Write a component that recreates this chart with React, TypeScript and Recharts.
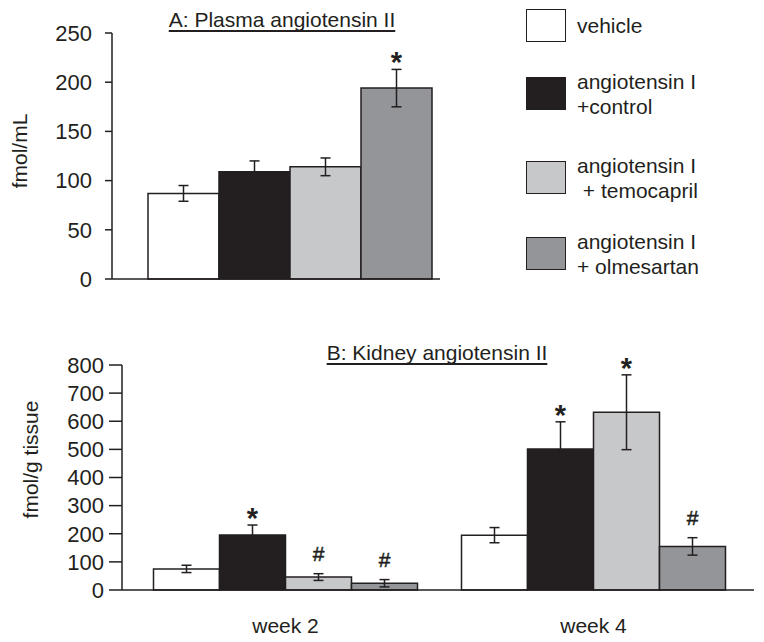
import { BarChart, Bar, XAxis, YAxis, ErrorBar, LabelList, Legend } from 'recharts'

const INK = '#231f20'
const FONT = '"Liberation Sans", Arial, Helvetica, sans-serif'

// series (same four groups in both panels)
const seriesKeys = ['vehicle', 'control', 'temocapril', 'olmesartan']
const seriesNames = ['vehicle', 'angiotensin I\n+control', 'angiotensin I\n + temocapril', 'angiotensin I\n+ olmesartan']
const seriesColors = ['#ffffff', '#231f20', '#c7c8ca', '#939598']

// A: plasma angiotensin II (fmol/mL)
const plasmaMean = [87, 109, 114, 194]
const plasmaErr = [8, 11, 9, 19]
const plasmaMark = ['', '', '', '*']
const plasmaTicks = [0, 50, 100, 150, 200, 250]

// B: kidney angiotensin II (fmol/g tissue)
const weeks = ['week 2', 'week 4']
const kidneyVehicle = [75, 195]
const kidneyControl = [196, 501]
const kidneyTemocapril = [46, 632]
const kidneyOlmesartan = [24, 155]
const kidneyVehicleErr = [13, 27]
const kidneyControlErr = [35, 97]
const kidneyTemocaprilErr = [12, 133]
const kidneyOlmesartanErr = [13, 31]
const kidneyVehicleMark = ['', '']
const kidneyControlMark = ['*', '*']
const kidneyTemocaprilMark = ['#', '*']
const kidneyOlmesartanMark = ['#', '#']
const kidneyTicks = [0, 100, 200, 300, 400, 500, 600, 700, 800]

const plasmaRow: Record<string, any> = { name: 'plasma' }
seriesKeys.forEach((k, i) => {
  plasmaRow[k] = plasmaMean[i]
  plasmaRow[k + 'Err'] = plasmaErr[i]
  plasmaRow[k + 'Mark'] = plasmaMark[i]
})
const plasmaData = [plasmaRow]

const kidneyMeans = [kidneyVehicle, kidneyControl, kidneyTemocapril, kidneyOlmesartan]
const kidneyErrs = [kidneyVehicleErr, kidneyControlErr, kidneyTemocaprilErr, kidneyOlmesartanErr]
const kidneyMarks = [kidneyVehicleMark, kidneyControlMark, kidneyTemocaprilMark, kidneyOlmesartanMark]
const kidneyData = weeks.map((w, j) => {
  const row: Record<string, any> = { name: w }
  seriesKeys.forEach((k, i) => {
    row[k] = kidneyMeans[i][j]
    row[k + 'Err'] = kidneyErrs[i][j]
    row[k + 'Mark'] = kidneyMarks[i][j]
  })
  return row
})

// significance marks sit above the top of the error bar
const makeMarker = (data: any[], key: string) => (props: any) => {
  const { x, y, width, height, value, index } = props
  if (!value) return null
  const row = data[index]
  const ppu = height / row[key]
  const errTop = y - row[key + 'Err'] * ppu
  const cx = x + width / 2
  if (value === '*') {
    return (
      <text x={cx} y={errTop + 3} textAnchor="middle" fontSize={29} fontWeight="bold" fill={INK} fontFamily={FONT}>
        *
      </text>
    )
  }
  return (
    <text x={cx} y={errTop - 13} textAnchor="middle" fontSize={21} fill={INK} stroke={INK} strokeWidth={0.5} fontFamily={FONT}>
      {value}
    </text>
  )
}

const axisTitle = (text: string, cx: number, shift: number) => (props: any) => {
  const vb = props.viewBox || { y: 0, height: 0 }
  const cy = vb.y + vb.height / 2 + shift
  return (
    <text
      x={cx} y={cy} transform={`rotate(-90 ${cx} ${cy})`}
      textAnchor="middle" dominantBaseline="central"
      fontSize={21} fill={INK} fontFamily={FONT}
    >
      {text}
    </text>
  )
}

const legendTops = [9, 77, 161, 237]

// legend drawn in series order (vehicle at the top)
const renderLegend = () => (
  <div style={{ position: 'relative', width: 230, height: 270, fontFamily: FONT, color: INK }}>
    {seriesNames.map((name, i) => (
      <div key={name} style={{ position: 'absolute', left: 0, top: legendTops[i], height: 33, display: 'flex', alignItems: 'center' }}>
        <div style={{ width: 38, height: 31, background: seriesColors[i], border: `1.5px solid ${INK}` }} />
        <div style={{ marginLeft: 11, fontSize: 21, lineHeight: '25px', whiteSpace: 'pre' }}>
          {name}
        </div>
      </div>
    ))}
  </div>
)

const tickStyle = { fill: INK, fontSize: 22, fontFamily: FONT }
const titleStyle: React.CSSProperties = {
  position: 'absolute', fontFamily: FONT, fontSize: 21, lineHeight: '21px',
  textDecoration: 'underline', textDecorationSkipInk: 'none', textUnderlineOffset: 3,
  color: INK, whiteSpace: 'nowrap', textAlign: 'center', width: 300,
}

export default function App() {
  return (
    <div style={{ position: 'absolute', left: 0, top: 0, width: 764, height: 642, background: '#fff', overflow: 'hidden' }}>
      <div style={{ ...titleStyle, left: 282 - 150, top: 9 }}>A: Plasma angiotensin II</div>
      <div style={{ ...titleStyle, left: 437 - 150, top: 342 }}>B: Kidney angiotensin II</div>

      <div style={{ position: 'absolute', left: 0, top: 0 }}>
        <BarChart
          width={764} height={300} data={plasmaData}
          margin={{ top: 33, right: 324, bottom: 0, left: 0 }}
          barCategoryGap={0} barGap={0}
        >
          <XAxis
            dataKey="name" tick={false} tickLine={false} height={21}
            axisLine={{ stroke: INK, strokeWidth: 1.5 }} padding={{ left: 36, right: 9 }}
          />
          <YAxis
            width={112} domain={[0, 250]} ticks={plasmaTicks} interval={0}
            tickSize={7} tickMargin={13} tick={tickStyle}
            axisLine={{ stroke: INK, strokeWidth: 1.5 }} tickLine={{ stroke: INK, strokeWidth: 1.5 }}
            label={{ content: axisTitle('fmol/mL', 19, -5) }}
          />
          <Legend
            content={renderLegend} layout="vertical" align="center" verticalAlign="middle"
            wrapperStyle={{ left: 526, top: 0, width: 230, height: 270 }}
          />
          {seriesKeys.map((k, i) => (
            <Bar key={k} dataKey={k} name={seriesNames[i]} fill={seriesColors[i]} stroke={INK} strokeWidth={1.5} isAnimationActive={false}>
              <ErrorBar dataKey={k + 'Err'} width={5} stroke={INK} strokeWidth={1.5} direction="y" isAnimationActive={false} />
              <LabelList dataKey={k + 'Mark'} content={makeMarker(plasmaData, k)} />
            </Bar>
          ))}
        </BarChart>
      </div>

      <div style={{ position: 'absolute', left: 0, top: 330 }}>
        <BarChart
          width={764} height={312} data={kidneyData}
          margin={{ top: 35, right: 10, bottom: 0, left: 0 }}
          barCategoryGap={22} barGap={0}
        >
          <XAxis
            dataKey="name" height={52} tickLine={false} tickSize={8} tickMargin={20}
            tick={{ fill: INK, fontSize: 21, fontFamily: FONT }}
            axisLine={{ stroke: INK, strokeWidth: 1.5 }} padding={{ left: 9.5, right: 6.5 }}
          />
          <YAxis
            width={122} domain={[0, 800]} ticks={kidneyTicks} interval={0}
            tickSize={13} tickMargin={5} tick={tickStyle}
            axisLine={{ stroke: INK, strokeWidth: 1.5 }} tickLine={{ stroke: INK, strokeWidth: 1.5 }}
            label={{ content: axisTitle('fmol/g tissue', 30, -18) }}
          />
          {seriesKeys.map((k, i) => (
            <Bar key={k} dataKey={k} name={seriesNames[i]} fill={seriesColors[i]} stroke={INK} strokeWidth={1.5} isAnimationActive={false}>
              <ErrorBar dataKey={k + 'Err'} width={5} stroke={INK} strokeWidth={1.5} direction="y" isAnimationActive={false} />
              <LabelList dataKey={k + 'Mark'} content={makeMarker(kidneyData, k)} />
            </Bar>
          ))}
        </BarChart>
      </div>
    </div>
  )
}
